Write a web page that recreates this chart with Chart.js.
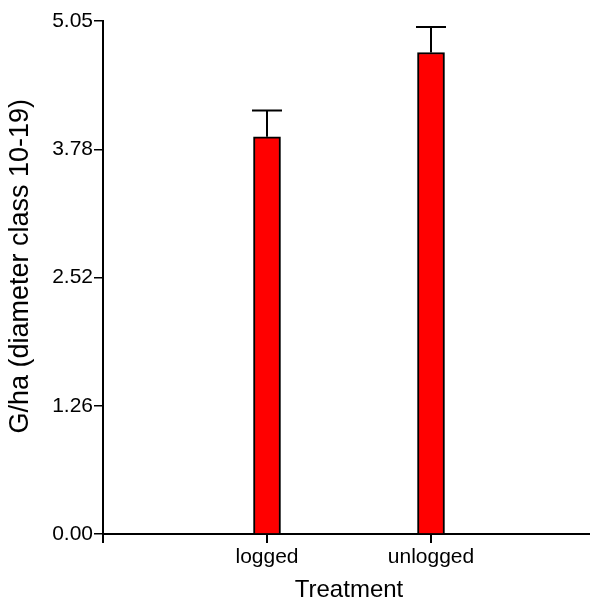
<!DOCTYPE html>
<html>
<head>
<meta charset="utf-8">
<script src="https://cdn.jsdelivr.net/npm/chart.js@4/dist/chart.umd.min.js"></script>
<style>
html,body{margin:0;padding:0;background:#fff;overflow:hidden;}
canvas{display:block;}
</style>
</head>
<body>
<canvas id="c" width="600" height="609"></canvas>
<script>
const categories = ['', 'logged', 'unlogged', ''];
const means = [null, 3.91, 4.74, null];
const errors = [null, 0.26, 0.25, null];
const yTickValues = [0, 1.2625, 2.525, 3.7875, 5.05];
const yTickLabels = ['0.00', '1.26', '2.52', '3.78', '5.05'];

const FONT = "'Liberation Sans', Arial, sans-serif";

const errorBarPlugin = {
  id: 'errorBars',
  afterDatasetsDraw(chart) {
    const ctx = chart.ctx;
    const meta = chart.getDatasetMeta(0);
    const y = chart.scales.y;
    ctx.save();
    ctx.strokeStyle = '#000';
    ctx.lineWidth = 2;
    meta.data.forEach((bar, i) => {
      if (means[i] == null || errors[i] == null) return;
      const x = bar.x;
      const top = y.getPixelForValue(means[i] + errors[i]);
      const base = y.getPixelForValue(means[i]);
      const half = 15;
      ctx.beginPath();
      ctx.moveTo(x, base);
      ctx.lineTo(x, top);
      ctx.moveTo(x - half, top);
      ctx.lineTo(x + half, top);
      ctx.stroke();
    });
    ctx.restore();
  }
};

new Chart(document.getElementById('c'), {
  type: 'bar',
  data: {
    labels: categories,
    datasets: [{
      data: means,
      backgroundColor: '#ff0000',
      borderColor: '#000',
      borderWidth: 2,
      borderSkipped: 'bottom',
      barThickness: 27
    }]
  },
  options: {
    responsive: false,
    animation: false,
    devicePixelRatio: 1,
    layout: { padding: { top: 21, right: 5, left: 0, bottom: 0 } },
    plugins: { legend: { display: false }, tooltip: { enabled: false } },
    scales: {
      x: {
        offset: false,
        grid: {
          display: true,
          offset: false,
          drawOnChartArea: false,
          drawTicks: true,
          tickLength: 9,
          lineWidth: 2,
          tickColor: (c) => (c.index === 3 ? 'rgba(0,0,0,0)' : '#000')
        },
        border: { display: true, color: '#000', width: 2 },
        ticks: {
          color: '#000',
          font: { family: FONT, size: 21 },
          padding: 2,
          maxRotation: 0,
          autoSkip: false
        },
        title: {
          display: true,
          text: 'Treatment',
          color: '#000',
          font: { family: FONT, size: 24 },
          padding: { top: 0, bottom: 4 }
        },
        afterFit(scale) { scale.height = 75; }
      },
      y: {
        min: 0,
        max: 5.05,
        afterBuildTicks(scale) {
          scale.ticks = yTickValues.map(v => ({ value: v }));
        },
        grid: {
          display: true,
          drawOnChartArea: false,
          drawTicks: true,
          tickLength: 9,
          lineWidth: 1.5,
          tickColor: '#000'
        },
        border: { display: true, color: '#000', width: 2 },
        ticks: {
          color: '#000',
          font: { family: FONT, size: 21 },
          padding: 1,
          callback: (v, i) => yTickLabels[i]
        },
        title: {
          display: true,
          text: '   G/ha (diameter class 10-19)',
          color: '#000',
          font: { family: FONT, size: 27 },
          padding: { top: 4, bottom: 0 }
        },
        afterFit(scale) { scale.width = 103; }
      }
    }
  },
  plugins: [errorBarPlugin]
});
</script>
</body>
</html>
